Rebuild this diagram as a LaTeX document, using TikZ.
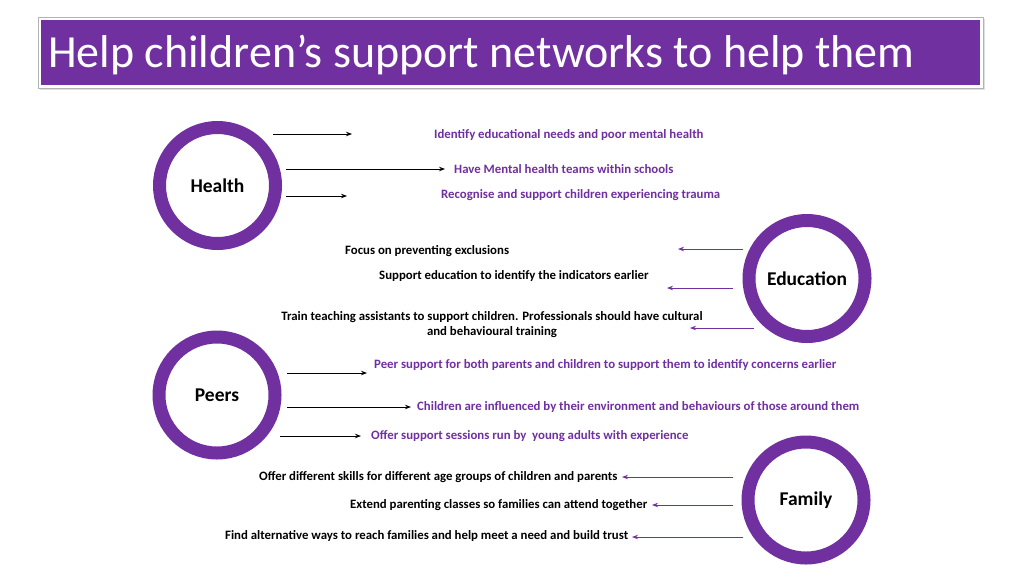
\documentclass[tikz,border=0pt]{standalone}
\usepackage{fontspec}
\setmainfont{Carlito}
\usetikzlibrary{arrows.meta}
\definecolor{ofpurple}{RGB}{112,48,160}
\tikzset{
  ring/.style={circle, draw=ofpurple, line width=13pt, minimum size=116pt, inner sep=0pt, font=\bfseries\fontsize{19.5}{22}\selectfont, text=black},
  ptxt/.style={inner sep=0pt, anchor=west, font=\bfseries\fontsize{12.8}{15}\selectfont, text=ofpurple},
  btxt/.style={inner sep=0pt, anchor=west, font=\bfseries\fontsize{12.8}{15}\selectfont, text=black},
  barrow/.style={draw=black, line width=0.9pt, -{Stealth[length=6pt,width=4.5pt]}},
  parrow/.style={draw=ofpurple, line width=0.9pt, -{Stealth[length=6pt,width=4.5pt]}}
}
\begin{document}
\begin{tikzpicture}[x=1pt,y=-1pt]
\useasboundingbox (0,0) rectangle (1024,576);
\fill[white] (0,0) rectangle (1024,576);
% title
\fill[gray!25] (40,19) rectangle (985,90);
\draw[fill=white, draw=gray!60, line width=1pt] (38,17) rectangle (983,88);
\fill[ofpurple] (41,20) rectangle (980,85);
\node[inner sep=0pt, anchor=base west, text=white, font=\fontsize{46}{50}\selectfont] (title) at (48,67) {Help children’s support networks to help them};
% circles
\node[ring] (health) at (217.5,185.5) {Health};
\node[ring] (edu) at (807,278.5) {Education};
\node[ring] (peers) at (217,395) {Peers};
\node[ring] (family) at (806,500) {Family};
% health
\coordinate (h1s) at (273,134); \coordinate (h1e) at (352,134);
\coordinate (h2s) at (286,169); \coordinate (h2e) at (445,169);
\coordinate (h3s) at (286,196); \coordinate (h3e) at (347,196);
\draw[barrow] (h1s) -- (h1e);
\draw[barrow] (h2s) -- (h2e);
\draw[barrow] (h3s) -- (h3e);
\node[ptxt] (ht1) at (434,135) {Identify educational needs and poor mental health};
\node[ptxt] (ht2) at (454,169) {Have Mental health teams within schools};
\node[ptxt] (ht3) at (441,195) {Recognise and support children experiencing trauma};
% education
\coordinate (e1s) at (743,249); \coordinate (e1e) at (678,249);
\coordinate (e2s) at (733,288); \coordinate (e2e) at (667,288);
\coordinate (e3s) at (754,328); \coordinate (e3e) at (690,328);
\draw[parrow] (e1s) -- (e1e);
\draw[parrow] (e2s) -- (e2e);
\draw[parrow] (e3s) -- (e3e);
\node[btxt] (et1) at (345,251) {Focus on preventing exclusions};
\node[btxt] (et2) at (379,276) {Support education to identify the indicators earlier};
\node[inner sep=0pt, align=center, font=\bfseries\fontsize{12.8}{15}\selectfont, text=black] (et3) at (492,324.5) {Train teaching assistants to support children. Professionals should have cultural\\and behavioural training};
% peers
\coordinate (p1s) at (287,373); \coordinate (p1e) at (367,373);
\coordinate (p2s) at (287,407); \coordinate (p2e) at (411,407);
\coordinate (p3s) at (280,436); \coordinate (p3e) at (361,436);
\draw[barrow] (p1s) -- (p1e);
\draw[barrow] (p2s) -- (p2e);
\draw[barrow] (p3s) -- (p3e);
\node[ptxt] (pt1) at (374,365) {Peer support for both parents and children to support them to identify concerns earlier};
\node[ptxt] (pt2) at (417,407) {Children are influenced by their environment and behaviours of those around them};
\node[ptxt] (pt3) at (371,436) {Offer support sessions run by\ \ young adults with experience};
% family
\coordinate (f1s) at (733,477); \coordinate (f1e) at (622,477);
\coordinate (f2s) at (733,505); \coordinate (f2e) at (652,505);
\coordinate (f3s) at (743,537); \coordinate (f3e) at (632,537);
\draw[parrow] (f1s) -- (f1e);
\draw[parrow] (f2s) -- (f2e);
\draw[parrow] (f3s) -- (f3e);
\node[btxt] (ft1) at (259,477) {Offer different skills for different age groups of children and parents};
\node[btxt] (ft2) at (350,505) {Extend parenting classes so families can attend together};
\node[btxt] (ft3) at (225,536) {Find alternative ways to reach families and help meet a need and build trust};
\end{tikzpicture}
\end{document}
